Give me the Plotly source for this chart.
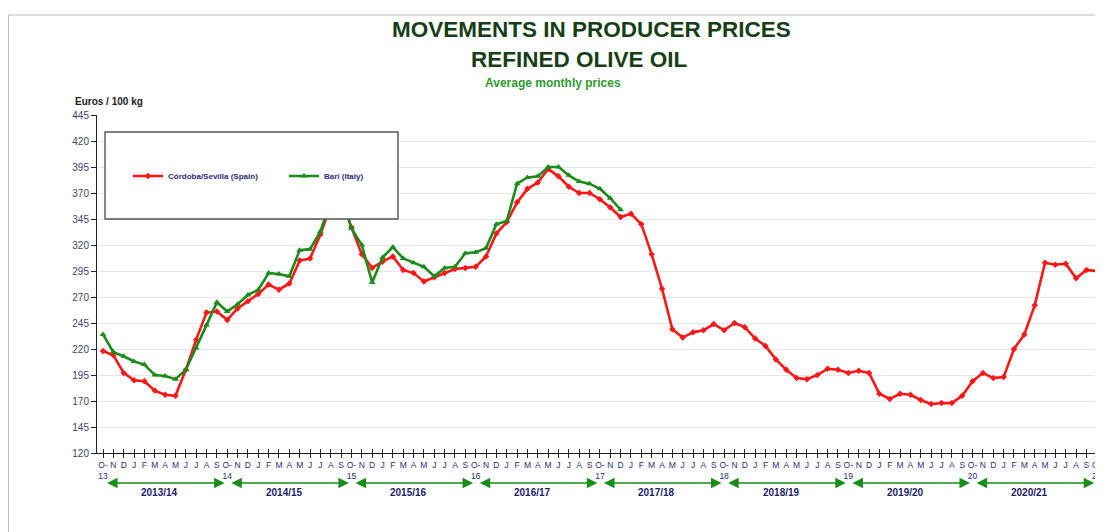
import plotly.graph_objects as go

# ---------------- data ----------------
months = ["O-", "N", "D", "J", "F", "M", "A", "M", "J", "J", "A", "S"]
year_suffix = ["13", "14", "15", "16", "17", "18", "19", "20", "21"]
seasons = ["2013/14", "2014/15", "2015/16", "2016/17", "2017/18",
           "2018/19", "2019/20", "2020/21"]

spain = [218, 214, 197, 190, 189, 180, 176, 175, 200, 229, 255, 256,
         248, 259, 266, 273, 282, 277, 283, 305, 307, 330, 358, 365,
         337, 311, 298, 304, 309, 296, 293, 285, 289, 293, 297, 298,
         299, 309, 331, 342, 361, 374, 380, 393, 386, 376, 370, 370,
         364, 356, 347, 350, 340, 311, 278, 239, 231, 236, 238, 244,
         238, 245, 241, 230, 223, 210, 200, 192, 191, 195, 201, 200,
         197, 199, 197, 177, 172, 177, 176, 171, 167, 168, 168, 175,
         189, 197, 192, 193, 220, 234, 262, 303, 301, 302, 288, 296,
         295]

italy = [234, 217, 213, 208, 205, 195, 194, 191, 200, 221, 243, 265,
         256, 263, 272, 277, 293, 292, 290, 315, 316, 333, 362, 368,
         336, 320, 284, 308, 318, 307, 303, 299, 290, 298, 299, 312,
         313, 317, 340, 343, 379, 385, 386, 395, 395, 387, 381, 379,
         374, 365, 354]

y_ticks = list(range(120, 446, 25))

# ---------------- geometry helpers ----------------
# the page body has an 8px margin, so the figure starts at (8, 8) on screen
OFF = 8
W, H = 1103 - OFF, 532 - OFF
L, R, T, B = 97 - OFF, 0, 115 - OFF, 532 - 453
PW, PH = W - L - R, H - T - B


def px(x):
    """screen x pixel -> paper coordinate"""
    return (x - OFF - L) / PW


def py(y):
    """screen y pixel -> paper coordinate"""
    return (H - B - (y - OFF)) / PH


RED = "#ff1616"
GREEN = "#1a8c1a"
NAVY = "#2b2b80"
FONT = "Liberation Sans, Arial, sans-serif"

x_sp = list(range(len(spain)))
x_it = list(range(len(italy)))

tickvals = list(range(len(spain)))
ticktext = []
for i in tickvals:
    m = months[i % 12]
    if i % 12 == 0:
        ticktext.append(m + "<br>" + year_suffix[i // 12])
    else:
        ticktext.append(m)

fig = go.Figure()
fig.add_trace(go.Scatter(
    x=x_sp, y=spain, name="Córdoba/Sevilla (Spain)", mode="lines+markers",
    line=dict(color=RED, width=2.6),
    marker=dict(symbol="diamond", size=5, color=RED),
))
fig.add_trace(go.Scatter(
    x=x_it, y=italy, name="Bari (Italy)", mode="lines+markers",
    line=dict(color=GREEN, width=2.6),
    marker=dict(symbol="triangle-up", size=6, color=GREEN),
))
# invisible trace for the secondary (inside-tick) x axis
fig.add_trace(go.Scatter(x=[0], y=[120], xaxis="x2", mode="markers",
                         marker=dict(opacity=0), showlegend=False,
                         hoverinfo="skip"))

xr = [-0.58, 96.6]
fig.update_layout(
    width=W, height=H,
    margin=dict(l=L, r=R, t=T, b=B, autoexpand=False),
    paper_bgcolor="white", plot_bgcolor="white",
    font=dict(family=FONT),
    showlegend=True,
    legend=dict(
        orientation="h", x=px(128), y=py(176), xanchor="left", yanchor="middle",
        bgcolor="rgba(0,0,0,0)", borderwidth=0,
        font=dict(size=8, color=NAVY, family=FONT, weight="bold"),
        entrywidth=111, entrywidthmode="pixels", itemwidth=30,
    ),
    xaxis=dict(
        range=xr, tickmode="array", tickvals=tickvals, ticktext=ticktext,
        tickangle=0, tickfont=dict(size=8.5, color=NAVY),
        ticks="outside", ticklen=4, tickcolor="#222", tickwidth=1,
        showline=True, linecolor="#222", linewidth=1, automargin=False,
        showgrid=False, zeroline=False, fixedrange=True,
    ),
    xaxis2=dict(
        range=xr, overlaying="x", anchor="y", side="bottom",
        tickmode="array", tickvals=tickvals, ticktext=[""] * len(tickvals),
        ticks="inside", ticklen=4, tickcolor="#222", tickwidth=1,
        showline=False, showgrid=False, zeroline=False, showticklabels=False,
        automargin=False,
    ),
    yaxis=dict(
        range=[120, 445], tickmode="array", tickvals=y_ticks,
        tickfont=dict(size=10, color="#44446e"),
        ticks="outside", ticklen=5, tickcolor="#222",
        showline=True, linecolor="#222", linewidth=1, automargin=False,
        showgrid=True, gridcolor="#e8e8e8", gridwidth=1,
        zeroline=False, fixedrange=True,
    ),
)

shapes = []
# outer frame (left and top edges)
shapes.append(dict(type="line", xref="paper", yref="paper",
                   x0=px(8.5), x1=px(8.5), y0=py(15), y1=py(540),
                   line=dict(color="#bbbbbb", width=1)))
shapes.append(dict(type="line", xref="paper", yref="paper",
                   x0=px(8.5), x1=px(1110), y0=py(15), y1=py(15),
                   line=dict(color="#bbbbbb", width=1)))
# legend box
shapes.append(dict(type="rect", xref="paper", yref="paper", layer="above",
                   x0=px(105), x1=px(398), y0=py(219), y1=py(132),
                   fillcolor="white", line=dict(color="#555555", width=1.4)))
fig.update_layout(shapes=shapes)

ann = []
ann.append(dict(text="<b>MOVEMENTS IN PRODUCER PRICES</b>", xref="paper", yref="paper",
                x=px(591), y=py(30), showarrow=False, xanchor="center", yanchor="middle",
                font=dict(size=22.5, color="#173f17", family=FONT)))
ann.append(dict(text="<b>REFINED OLIVE OIL</b>", xref="paper", yref="paper",
                x=px(579), y=py(59), showarrow=False, xanchor="center", yanchor="middle",
                font=dict(size=22.5, color="#173f17", family=FONT)))
ann.append(dict(text="<b>Average monthly prices</b>", xref="paper", yref="paper",
                x=px(553), y=py(83), showarrow=False, xanchor="center", yanchor="middle",
                font=dict(size=12, color="#2e9a2e", family=FONT)))
ann.append(dict(text="<b>Euros / 100 kg</b>", xref="paper", yref="paper",
                x=px(73), y=py(101), showarrow=False, xanchor="left", yanchor="middle",
                font=dict(size=10, color="#222222", family=FONT)))

# season arrows and labels
for k, s in enumerate(seasons):
    start = 12 * k + 0.25
    end = 12 * k + 11.75
    ann.append(dict(text="", x=end, y=py(483), xref="x", yref="paper",
                    ax=start, ay=0, axref="x", ayref="pixel",
                    showarrow=True, arrowhead=2, arrowside="end+start",
                    arrowsize=1.4, arrowwidth=1.5, arrowcolor=GREEN))
    ann.append(dict(text="<b>" + s + "</b>", x=12 * k + 5.5, y=py(492),
                    xref="x", yref="paper", showarrow=False,
                    xanchor="center", yanchor="middle",
                    font=dict(size=10, color="#1c1c6b", family=FONT)))
fig.update_layout(annotations=ann)

fig.write_html("out.html")
